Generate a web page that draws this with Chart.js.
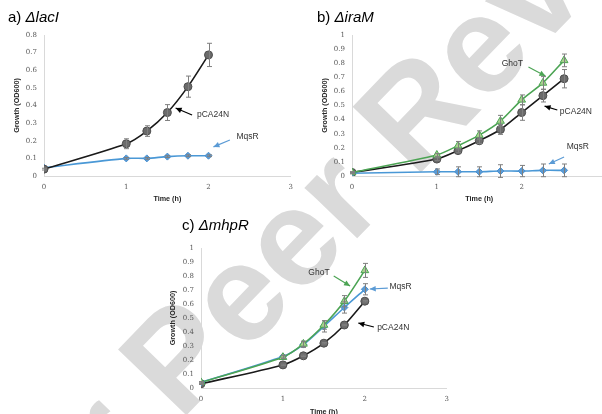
<!DOCTYPE html>
<html>
<head>
<meta charset="utf-8">
<script src="https://cdn.jsdelivr.net/npm/chart.js"></script>
<style>
  html, body { margin: 0; padding: 0; background: #fff; width: 602px; height: 414px; overflow: hidden; }
  body { position: relative; }
  canvas { position: absolute; }
  #wm { left: 0; top: 0; z-index: 0; }
  .chart { z-index: 1; }
  .ttl { position: absolute; z-index: 2; font-family: "Liberation Sans", Arial, sans-serif; font-size: 15px; line-height: 15px; color: #000; white-space: nowrap; }
</style>
</head>
<body>
<canvas id="wm" width="602" height="414"></canvas>
<canvas id="chartA" class="chart" style="left:0px;top:0px" width="300" height="210"></canvas>
<canvas id="chartB" class="chart" style="left:317px;top:0px" width="295" height="210"></canvas>
<canvas id="chartC" class="chart" style="left:165px;top:213px" width="291" height="210"></canvas>
<div class="ttl" style="left:8px;top:9px">a) <i>ΔlacI</i></div>
<div class="ttl" style="left:317px;top:9px">b) <i>ΔiraM</i></div>
<div class="ttl" style="left:182px;top:217px">c) <i>ΔmhpR</i></div>
<script>
// ticks
const hourTicks = [0, 1, 2, 3];
const hourTicksB = [0, 1, 2];
const odTicksA = [0, 0.1, 0.2, 0.3, 0.4, 0.5, 0.6, 0.7, 0.8];
const odTicksBC = [0, 0.1, 0.2, 0.3, 0.4, 0.5, 0.6, 0.7, 0.8, 0.9, 1];

// a) lacI
const timesA = [0, 1, 1.25, 1.5, 1.75, 2];
const lacI_pCA24N = [0.039, 0.183, 0.255, 0.36, 0.507, 0.687];
const lacI_pCA24N_err = [0.005, 0.028, 0.03, 0.045, 0.06, 0.066];
const lacI_MqsR = [0.047, 0.1, 0.1, 0.11, 0.115, 0.115];
const lacI_MqsR_err = [0, 0.005, 0.005, 0.005, 0.005, 0.005];

// b) iraM
const timesB = [0, 1, 1.25, 1.5, 1.75, 2, 2.25, 2.5];
const iraM_GhoT = [0.025, 0.149, 0.215, 0.29, 0.39, 0.54, 0.66, 0.82];
const iraM_GhoT_err = [0.005, 0.01, 0.03, 0.03, 0.04, 0.035, 0.045, 0.045];
const iraM_pCA24N = [0.025, 0.12, 0.18, 0.25, 0.33, 0.45, 0.57, 0.69];
const iraM_pCA24N_err = [0.005, 0.01, 0.015, 0.02, 0.035, 0.055, 0.045, 0.065];
const iraM_MqsR = [0.02, 0.03, 0.03, 0.03, 0.035, 0.035, 0.04, 0.04];
const iraM_MqsR_err = [0.005, 0.02, 0.035, 0.035, 0.045, 0.04, 0.045, 0.045];

// c) mhpR
const timesC = [0, 1, 1.25, 1.5, 1.75, 2];
const mhpR_GhoT = [0.04, 0.22, 0.315, 0.45, 0.62, 0.84];
const mhpR_GhoT_err = [0.005, 0.01, 0.02, 0.03, 0.04, 0.05];
const mhpR_MqsR = [0.04, 0.225, 0.31, 0.44, 0.575, 0.705];
const mhpR_MqsR_err = [0.005, 0.01, 0.02, 0.04, 0.04, 0.04];
const mhpR_pCA24N = [0.03, 0.165, 0.23, 0.32, 0.45, 0.62];
const mhpR_pCA24N_err = [0.005, 0.005, 0.005, 0.005, 0.005, 0.005];

const SANS = '"Liberation Sans", Arial, sans-serif';
const SERIF = '"DejaVu Serif", serif';

// watermark behind the charts
(function () {
    const ctx = document.getElementById("wm").getContext("2d");
    ctx.fillStyle = "#dadada";
    ctx.font = "bold 138px " + SANS;
    ctx.translate(180, 422);
    ctx.rotate(-46 * Math.PI / 180);
    ctx.textBaseline = "alphabetic";
    const lead = ctx.measureText("For ").width;
    ctx.fillText("For Peer Review", -lead, 0);
})();

const styles = {
    pCA24N: { borderColor: "#1a1a1a", pointStyle: "circle", pointRadius: 4, pointBackgroundColor: "#6b6b6b", pointBorderColor: "#4d4d4d" },
    MqsR: { borderColor: "#4a98d6", pointStyle: "rectRot", pointRadius: 3.5, pointBackgroundColor: "#5b9bd5", pointBorderColor: "#4a90cf" },
    GhoT: { borderColor: "#4ca454", pointStyle: "triangle", pointRadius: 4.5, pointBackgroundColor: "#a9d08e", pointBorderColor: "#4ca454" }
};

function series(name, times, vals, errs) {
    return Object.assign({
        label: name,
        data: times.map((t, i) => ({ x: t, y: vals[i] })),
        errors: errs,
        showLine: true,
        borderWidth: 1.6,
        pointBorderWidth: 1,
        tension: 0.25
    }, styles[name]);
}

// error bars
const errorBars = {
    id: "errorBars",
    afterDatasetsDraw(chart) {
        const { ctx } = chart;
        const y = chart.scales.y;
        ctx.save();
        ctx.strokeStyle = "#7f7f7f";
        ctx.lineWidth = 1;
        chart.data.datasets.forEach((ds, di) => {
            const meta = chart.getDatasetMeta(di);
            meta.data.forEach((pt, i) => {
                const e = ds.errors[i];
                if (!e) return;
                const v = ds.data[i].y;
                const top = y.getPixelForValue(v + e);
                const bot = y.getPixelForValue(v - e);
                const px = Math.round(pt.x) + 0.5;
                ctx.beginPath();
                ctx.moveTo(px, top); ctx.lineTo(px, bot);
                ctx.moveTo(px - 2.5, top); ctx.lineTo(px + 2.5, top);
                ctx.moveTo(px - 2.5, bot); ctx.lineTo(px + 2.5, bot);
                ctx.stroke();
            });
        });
        ctx.restore();
    }
};

// labels with arrows, placed in data units
function notes(list) {
    return {
        id: "notes",
        afterDatasetsDraw(chart) {
            const { ctx } = chart;
            const { x, y } = chart.scales;
            ctx.save();
            list.forEach(n => {
                const fx = x.getPixelForValue(n.from[0]), fy = y.getPixelForValue(n.from[1]);
                const tx = x.getPixelForValue(n.to[0]), ty = y.getPixelForValue(n.to[1]);
                ctx.strokeStyle = n.color;
                ctx.fillStyle = n.color;
                ctx.lineWidth = 1.2;
                ctx.beginPath();
                ctx.moveTo(fx, fy); ctx.lineTo(tx, ty);
                ctx.stroke();
                const a = Math.atan2(ty - fy, tx - fx);
                ctx.beginPath();
                ctx.moveTo(tx, ty);
                ctx.lineTo(tx - 6 * Math.cos(a) + 2.8 * Math.sin(a), ty - 6 * Math.sin(a) - 2.8 * Math.cos(a));
                ctx.lineTo(tx - 6 * Math.cos(a) - 2.8 * Math.sin(a), ty - 6 * Math.sin(a) + 2.8 * Math.cos(a));
                ctx.closePath();
                ctx.fill();
                ctx.fillStyle = "#333";
                ctx.font = "8.5px " + SANS;
                ctx.textBaseline = "middle";
                ctx.fillText(n.label, x.getPixelForValue(n.at[0]), y.getPixelForValue(n.at[1]));
            });
            ctx.restore();
        }
    };
}

function makeChart(id, datasets, opts) {
    return new Chart(document.getElementById(id).getContext("2d"), {
        type: "scatter",
        data: { datasets: datasets },
        options: {
            responsive: false,
            animation: false,
            devicePixelRatio: 1,
            layout: { padding: { left: opts.padLeft, right: 5, top: 35, bottom: 0 } },
            plugins: { legend: { display: false }, tooltip: { enabled: false } },
            scales: {
                x: {
                    type: "linear", min: 0, max: 3,
                    afterBuildTicks: s => { s.ticks = opts.xTicks.map(v => ({ value: v })); },
                    afterFit: s => { s.height = opts.xHeight; },
                    grid: { display: false, drawTicks: false },
                    border: { display: true, color: "#d9d9d9", width: 1 },
                    ticks: { padding: 7, color: "#595959", font: { family: SERIF, size: 7 }, autoSkip: false, maxRotation: 0 },
                    title: { display: true, text: "Time (h)", color: "#262626", font: { family: SANS, size: 7.2, weight: "bold" }, padding: { top: 0, bottom: 6.7 } }
                },
                y: {
                    min: 0, max: opts.yMax,
                    afterBuildTicks: s => { s.ticks = opts.yTicks.map(v => ({ value: v })); },
                    afterFit: s => { s.width = opts.yWidth; },
                    grid: { display: false, drawTicks: false },
                    border: { display: true, color: "#d9d9d9", width: 1 },
                    ticks: { padding: 7, color: "#595959", font: { family: SERIF, size: 7 }, autoSkip: false, callback: v => String(+v.toFixed(2)) },
                    title: { display: true, text: "Growth (OD600)", color: "#262626", font: { family: SANS, size: 7.2, weight: "bold" }, padding: { top: opts.yTitlePad, bottom: 0 } }
                }
            }
        },
        plugins: [errorBars, notes(opts.notes)]
    });
}

makeChart("chartA", [
    series("pCA24N", timesA, lacI_pCA24N, lacI_pCA24N_err),
    series("MqsR", timesA, lacI_MqsR, lacI_MqsR_err)
], {
    padLeft: 8, yWidth: 36, xHeight: 34, yMax: 0.8, xTicks: hourTicks, yTicks: odTicksA, yTitlePad: 4.7,
    notes: [
        { label: "pCA24N", color: "#000", at: [1.86, 0.346], from: [1.80, 0.346], to: [1.60, 0.386] },
        { label: "MqsR", color: "#5b9bd5", at: [2.34, 0.221], from: [2.26, 0.204], to: [2.06, 0.165] }
    ]
});

makeChart("chartB", [
    series("GhoT", timesB, iraM_GhoT, iraM_GhoT_err),
    series("MqsR", timesB, iraM_MqsR, iraM_MqsR_err),
    series("pCA24N", timesB, iraM_pCA24N, iraM_pCA24N_err)
], {
    padLeft: 0, yWidth: 35, xHeight: 34, yMax: 1, xTicks: hourTicksB, yTicks: odTicksBC, yTitlePad: 3.7,
    notes: [
        { label: "GhoT", color: "#4ca454", at: [1.765, 0.80], from: [2.08, 0.773], to: [2.28, 0.709] },
        { label: "pCA24N", color: "#000", at: [2.45, 0.454], from: [2.42, 0.468], to: [2.27, 0.496] },
        { label: "MqsR", color: "#5b9bd5", at: [2.53, 0.206], from: [2.50, 0.135], to: [2.32, 0.085] }
    ]
});

makeChart("chartC", [
    series("GhoT", timesC, mhpR_GhoT, mhpR_GhoT_err),
    series("MqsR", timesC, mhpR_MqsR, mhpR_MqsR_err),
    series("pCA24N", timesC, mhpR_pCA24N, mhpR_pCA24N_err)
], {
    padLeft: 0, yWidth: 36, xHeight: 35, yMax: 1, xTicks: hourTicks, yTicks: odTicksBC, yTitlePad: 3.7,
    notes: [
        { label: "GhoT", color: "#4ca454", at: [1.31, 0.821], from: [1.62, 0.80], to: [1.82, 0.729] },
        { label: "MqsR", color: "#5b9bd5", at: [2.30, 0.721], from: [2.28, 0.714], to: [2.06, 0.707] },
        { label: "pCA24N", color: "#000", at: [2.15, 0.429], from: [2.11, 0.436], to: [1.92, 0.464] }
    ]
});
</script>
</body>
</html>
